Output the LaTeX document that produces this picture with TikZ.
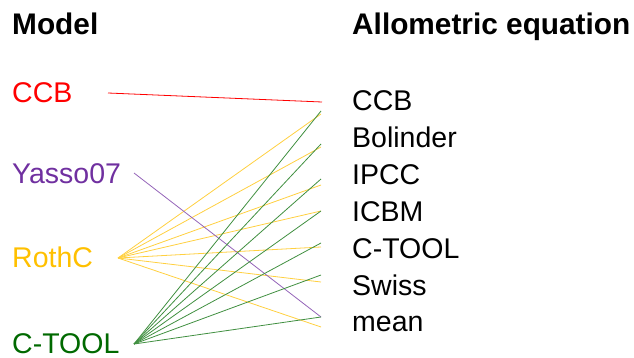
\documentclass[tikz,border=0pt]{standalone}
\usepackage{fontspec}
\setmainfont{Liberation Sans}
\usetikzlibrary{positioning}
\definecolor{ccbred}{RGB}{255,0,0}
\definecolor{yassopurple}{RGB}{112,48,160}
\definecolor{rothcyellow}{RGB}{255,192,0}
\definecolor{ctoolgreen}{RGB}{0,105,0}

\begin{document}
\begin{tikzpicture}[x=1pt, y=-1pt,
  head/.style={anchor=base west, inner sep=0pt, font=\fontsize{29.8}{34}\selectfont\bfseries},
  model/.style={anchor=base west, inner sep=0pt, font=\fontsize{28.5}{34}\selectfont},
  eq/.style={anchor=base west, inner sep=0pt, font=\fontsize{28.5}{34}\selectfont},
  link/.style={line width=0.8pt}]
\useasboundingbox (0,0) rectangle (634,358);
% headings
\node[head] (modelhead) at (12,35) {Model};
\node[head] (eqhead) at (352,35) {Allometric equation};
% models
\node[model, text=ccbred] (ccb) at (12,103) {CCB};
\node[model, text=yassopurple] (yasso) at (12,183) {Yasso07};
\node[model, text=rothcyellow] (rothc) at (12,267) {RothC};
\node[model, text=ctoolgreen] (ctool) at (12,353.5) {C-TOOL};
\coordinate (ccbout) at (108,93);
\coordinate (yassoout) at (134,173);
\coordinate (rothcout) at (118,258);
\coordinate (ctoolout) at (134,344);
% equations
\foreach \lbl [count=\i] in {CCB, Bolinder, IPCC, ICBM, C-TOOL, Swiss, mean}
  \node[eq] (eq\i) at (352, {111+36.83*(\i-1)}) {\lbl};
% links
\coordinate (ccbin) at (322,102);
\coordinate (yassoin) at (321,317);
\draw[link, ccbred] (ccbout) -- (ccbin);
\foreach \y [count=\i] in {114,147,185,211,247,282,327} {
  \coordinate (rin\i) at (321,\y);
  \draw[link, rothcyellow!75] (rothcout) -- (rin\i);
}
\draw[link, yassopurple!75] (yassoout) -- (yassoin);
\foreach \y [count=\i] in {111,144,179,211,243,275,317} {
  \coordinate (gin\i) at (321,\y);
  \draw[link, ctoolgreen!75] (ctoolout) -- (gin\i);
}
\end{tikzpicture}
\end{document}
